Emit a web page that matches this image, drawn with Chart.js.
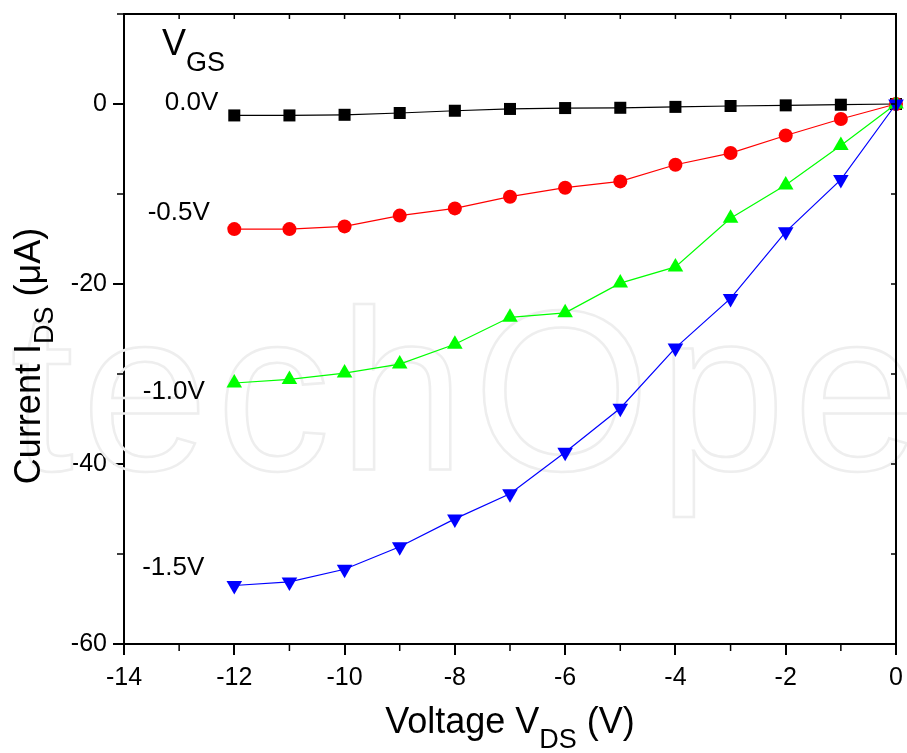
<!DOCTYPE html>
<html>
<head>
<meta charset="utf-8">
<title>I-V characteristics</title>
<script src="https://cdn.jsdelivr.net/npm/chart.js@4.4.1/dist/chart.umd.min.js"></script>
<style>
  html, body { margin: 0; padding: 0; background: #fff; }
  canvas { display: block; }
</style>
</head>
<body>
<canvas id="grafico" width="907" height="753"></canvas>
<script>
// drain voltage steps (V)
const vds = [-12, -11, -10, -9, -8, -7, -6, -5, -4, -3, -2, -1, 0];

// drain current (uA) for each gate voltage
const ids_0v0 = [-1.27, -1.27, -1.2, -1.0, -0.75, -0.55, -0.45, -0.42, -0.32, -0.22, -0.15, -0.08, 0];
const ids_m0v5 = [-13.9, -13.9, -13.6, -12.4, -11.6, -10.3, -9.3, -8.6, -6.75, -5.45, -3.5, -1.67, 0];
const ids_m1v0 = [-31.0, -30.6, -29.9, -28.9, -26.7, -23.7, -23.2, -19.9, -18.1, -12.7, -9.0, -4.6, 0];
const ids_m1v5 = [-53.5, -53.1, -51.7, -49.2, -46.1, -43.3, -38.7, -33.8, -27.1, -21.6, -14.2, -8.4, 0];

const curveLabels = ["0.0V", "-0.5V", "-1.0V", "-1.5V"];
const labelAnchors = [[-13.26, 0.1], [-13.57, -12.1], [-13.66, -32.0], [-13.67, -51.5]];

const xTicks = [-14, -12, -10, -8, -6, -4, -2, 0];
const yTicks = [-60, -40, -20, 0];

const FONT = '"Liberation Sans", Arial, sans-serif';

function pontos(ys) {
    return vds.map((v, i) => ({ x: v, y: ys[i] }));
}

// later curves are drawn over earlier ones (lower order = on top)
function serie(ys, cor, estilo, raio, ordem, rot) {
    return {
        data: pontos(ys),
        borderColor: cor,
        backgroundColor: cor,
        borderWidth: 1.2,
        pointStyle: estilo,
        pointRadius: raio,
        pointRotation: rot || 0,
        pointBorderWidth: 0,
        pointBackgroundColor: cor,
        tension: 0,
        order: ordem,
        clip: false
    };
}

// text with a subscript part, centred on (x, y)
function textoRico(ctx, partes, x, y) {
    let total = 0;
    partes.forEach(p => {
        ctx.font = p.size + "px " + FONT;
        p.w = ctx.measureText(p.t).width;
        total += p.w;
    });
    let cx = x - total / 2;
    ctx.textAlign = "left";
    ctx.textBaseline = "alphabetic";
    partes.forEach(p => {
        ctx.font = p.size + "px " + FONT;
        ctx.fillText(p.t, cx, y + (p.dy || 0));
        cx += p.w;
    });
}

const moldura = {
    id: "moldura",
    beforeDatasetsDraw(chart) {
        const ctx = chart.ctx;
        // faint publisher watermark behind the data
        ctx.save();
        ctx.font = "228px " + FONT;
        ctx.letterSpacing = "8px";
        ctx.strokeStyle = "#eeeeee";
        ctx.lineWidth = 2.5;
        ctx.textBaseline = "alphabetic";
        ctx.strokeText("IntechOpen", -196, 470);
        ctx.restore();
    },
    afterDraw(chart) {
        const ctx = chart.ctx;
        const a = chart.chartArea;
        const x = chart.scales.x, y = chart.scales.y;
        ctx.save();
        ctx.strokeStyle = "#000";
        ctx.lineWidth = 2;
        ctx.beginPath();
        ctx.moveTo(a.left - 1, a.top);
        ctx.lineTo(a.right, a.top);
        ctx.lineTo(a.right, a.bottom);
        ctx.stroke();

        ctx.lineWidth = 1.5;
        ctx.beginPath();
        // minor ticks outside, inner ticks on top and right
        for (let v = -13; v < 0; v += 2) {
            const px = x.getPixelForValue(v);
            ctx.moveTo(px, a.bottom); ctx.lineTo(px, a.bottom + 7);
        }
        for (let v = -14; v <= 0; v += 1) {
            const px = x.getPixelForValue(v);
            ctx.moveTo(px, a.top); ctx.lineTo(px, a.top + 5);
        }
        for (let v = -50; v <= 10; v += 20) {
            const py = y.getPixelForValue(v);
            ctx.moveTo(a.left, py); ctx.lineTo(a.left - 7, py);
        }
        for (let v = -60; v <= 10; v += 10) {
            const py = y.getPixelForValue(v);
            ctx.moveTo(a.right, py); ctx.lineTo(a.right - 5, py);
        }
        ctx.stroke();

        ctx.fillStyle = "#000";
        // gate voltage labels
        ctx.font = "26px " + FONT;
        ctx.textAlign = "left";
        ctx.textBaseline = "middle";
        curveLabels.forEach((t, i) => {
            const [lx, ly] = labelAnchors[i];
            ctx.fillText(t, x.getPixelForValue(lx), y.getPixelForValue(ly));
        });

        // V_GS heading
        const hx = x.getPixelForValue(-13.31);
        ctx.textBaseline = "alphabetic";
        ctx.font = "36px " + FONT;
        ctx.fillText("V", hx, 55);
        const vw = ctx.measureText("V").width;
        ctx.font = "27px " + FONT;
        ctx.fillText("GS", hx + vw, 71);

        // axis titles
        textoRico(ctx, [
            { t: "Voltage V", size: 36 },
            { t: "DS", size: 27, dy: 15 },
            { t: " (V)", size: 36 }
        ], 510, 733);

        ctx.translate(40, 356);
        ctx.rotate(-Math.PI / 2);
        textoRico(ctx, [
            { t: "Current I", size: 36 },
            { t: "DS", size: 27, dy: 13 },
            { t: " (\u03bcA)", size: 36 }
        ], 0, 0);
        ctx.restore();
    }
};

const ctx = document.getElementById("grafico").getContext("2d");

new Chart(ctx, {
    type: "line",
    data: {
        datasets: [
            serie(ids_0v0, "#000000", "rect", 8.5, 4),
            serie(ids_m0v5, "#ff0000", "circle", 7, 3),
            serie(ids_m1v0, "#00ff00", "triangle", 9, 2),
            serie(ids_m1v5, "#0000ff", "triangle", 9, 1, 180)
        ]
    },
    options: {
        responsive: false,
        animation: false,
        layout: { padding: { top: 14, right: 11, left: 0, bottom: 0 } },
        plugins: {
            legend: { display: false },
            tooltip: { enabled: false }
        },
        scales: {
            x: {
                type: "linear",
                min: -14,
                max: 0,
                afterBuildTicks: s => { s.ticks = xTicks.map(v => ({ value: v })); },
                afterFit: s => {
                    s.height = 109;
                    s.paddingLeft = 0;
                    s.paddingRight = 0;
                },
                ticks: {
                    color: "#000",
                    font: { family: FONT, size: 25 },
                    padding: 8,
                    maxRotation: 0
                },
                grid: {
                    drawOnChartArea: false,
                    color: "#000",
                    lineWidth: 2,
                    tickLength: 11
                },
                border: { color: "#000", width: 2 }
            },
            y: {
                type: "linear",
                min: -60,
                max: 10,
                afterBuildTicks: s => { s.ticks = yTicks.map(v => ({ value: v })); },
                afterFit: s => {
                    s.width = 124;
                    s.paddingTop = 0;
                    s.paddingBottom = 0;
                },
                ticks: {
                    color: "#000",
                    font: { family: FONT, size: 25 },
                    padding: 6
                },
                grid: {
                    drawOnChartArea: false,
                    color: "#000",
                    lineWidth: 2,
                    tickLength: 11
                },
                border: { color: "#000", width: 2 }
            }
        }
    },
    plugins: [moldura]
});
</script>
</body>
</html>
